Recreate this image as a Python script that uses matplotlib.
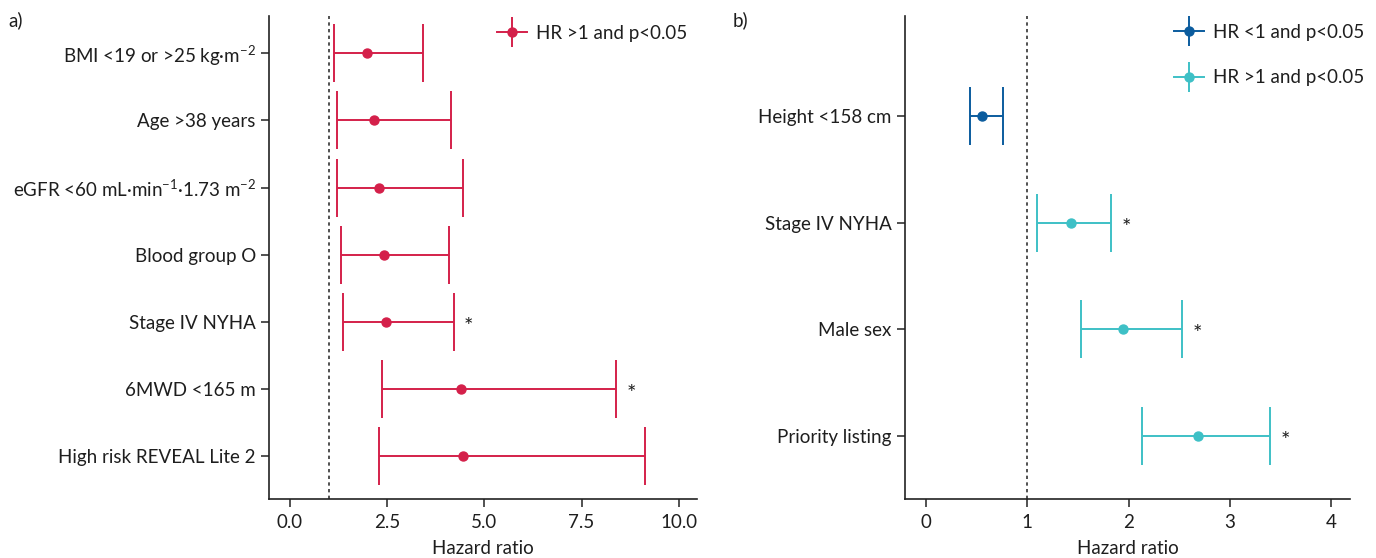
import matplotlib
matplotlib.use("Agg")
import matplotlib.pyplot as plt
from matplotlib.lines import Line2D

plt.rcParams['font.family'] = ['Lato', 'DejaVu Sans']
plt.rcParams['mathtext.fontset'] = 'custom'
plt.rcParams['mathtext.rm'] = 'Lato'
plt.rcParams['mathtext.it'] = 'Lato:italic'
plt.rcParams['mathtext.bf'] = 'Lato:bold'
plt.rcParams['mathtext.fallback'] = 'stixsans'

# ---- Panel a data ----
a_labels = ["BMI <19 or >25 kg\u00b7m$^{\u22122}$", "Age >38 years",
            "eGFR <60 mL\u00b7min$^{\u22121}$\u00b71.73 m$^{\u22122}$", "Blood group O",
            "Stage IV NYHA", "6MWD <165 m", "High risk REVEAL Lite 2"]
a_hr = [1.98, 2.15, 2.30, 2.42, 2.46, 4.39, 4.46]
a_lo = [1.12, 1.21, 1.21, 1.32, 1.36, 2.36, 2.28]
a_hi = [3.43, 4.13, 4.44, 4.09, 4.21, 8.39, 9.13]
a_star = [False, False, False, False, True, True, False]
a_xticks = [0.0, 2.5, 5.0, 7.5, 10.0]

# ---- Panel b data ----
b_labels = ["Height <158 cm", "Stage IV NYHA", "Male sex", "Priority listing"]
b_hr = [0.555, 1.43, 1.95, 2.69]
b_lo = [0.43, 1.10, 1.53, 2.13]
b_hi = [0.76, 1.83, 2.53, 3.40]
b_group = ["low", "high", "high", "high"]
b_star = [False, True, True, True]
b_xticks = [0, 1, 2, 3, 4]

RED = "#D4204A"
DBLUE = "#0B5C9E"
TEAL = "#3EC0C6"
FS = 13.5
TXT = "#1e1e1e"

W, H = 1376, 558
fig = plt.figure(figsize=(W / 100, H / 100), dpi=100)

def px_ax(x0, x1, y0, y1):
    return fig.add_axes([x0 / W, 1 - y1 / H, (x1 - x0) / W, (y1 - y0) / H])

axA = px_ax(269, 697, 15.7, 499)
axB = px_ax(905, 1350, 15.7, 499)

def style(ax):
    for s in ["top", "right"]:
        ax.spines[s].set_visible(False)
    for s in ["left", "bottom"]:
        ax.spines[s].set_linewidth(1.2)
        ax.spines[s].set_color("#222222")
    ax.tick_params(axis="both", length=6, width=1.1, color="#222222",
                   labelsize=FS, labelcolor=TXT)
    ax.tick_params(axis="x", pad=5)
    ax.set_xlabel("Hazard ratio", fontsize=FS, color=TXT, labelpad=6)

CAP = 29 * 0.72
MS = 9 * 0.72

def draw(ax, labels, hr, lo, hi, colors, stars):
    ys = list(range(len(labels)))
    for y, h, l, u, c, s in zip(ys, hr, lo, hi, colors, stars):
        ax.errorbar([h], [y], xerr=[[h - l], [u - h]], fmt="o", color=c,
                    ecolor=c, elinewidth=1.4, capsize=CAP, capthick=1.4,
                    markersize=MS, zorder=3)
        if s:
            ax.annotate("*", xy=(u, y), xytext=(7.5, -3.5), textcoords="offset points",
                        ha="left", va="center", fontsize=16, color=TXT)
    ax.set_yticks(ys)
    ax.set_yticklabels(labels)
    ax.axvline(1, color="#333333", linestyle=(0, (2, 2)), linewidth=1.2, zorder=1)

# Panel a
draw(axA, a_labels, a_hr, a_lo, a_hi, [RED] * len(a_labels), a_star)
axA.set_xlim(-0.54, 10.47)
axA.set_ylim(6.64, -0.56)
axA.set_xticks(a_xticks)
axA.set_xticklabels([f"{v:.1f}" for v in a_xticks])
style(axA)

# Panel b
cmap = {"low": DBLUE, "high": TEAL}
draw(axB, b_labels, b_hr, b_lo, b_hi, [cmap[g] for g in b_group], b_star)
axB.set_xlim(-0.21, 4.19)
axB.set_ylim(3.59, -0.94)
axB.set_xticks(b_xticks)
style(axB)

def handle(c):
    return (Line2D([], [], color=c, linewidth=1.4, marker="o", markersize=MS),
            Line2D([], [], color=c, linestyle="none", marker="|", markersize=22,
                   markeredgewidth=1.4))

legA = axA.legend([handle(RED)], ["HR >1 and p<0.05"], loc="upper left",
                  bbox_to_anchor=(497 / W, 1 - 25 / H), bbox_transform=fig.transFigure,
                  frameon=False, fontsize=FS, handlelength=1.6, handletextpad=0.5,
                  borderpad=0, borderaxespad=0)
for t in legA.get_texts():
    t.set_color(TXT)

legB = axB.legend([handle(DBLUE), handle(TEAL)],
                  ["HR <1 and p<0.05", "HR >1 and p<0.05"], loc="upper left",
                  bbox_to_anchor=(1174 / W, 1 - 24 / H), bbox_transform=fig.transFigure,
                  frameon=False, fontsize=FS, handlelength=1.6, handletextpad=0.5,
                  borderpad=0, borderaxespad=0, labelspacing=1.5)
for t in legB.get_texts():
    t.set_color(TXT)

fig.text(8 / W, 1 - 20 / H, "a)", fontsize=FS, color=TXT, va="center", ha="left")
fig.text(733 / W, 1 - 20 / H, "b)", fontsize=FS, color=TXT, va="center", ha="left")

fig.savefig("out.png", dpi=100)
